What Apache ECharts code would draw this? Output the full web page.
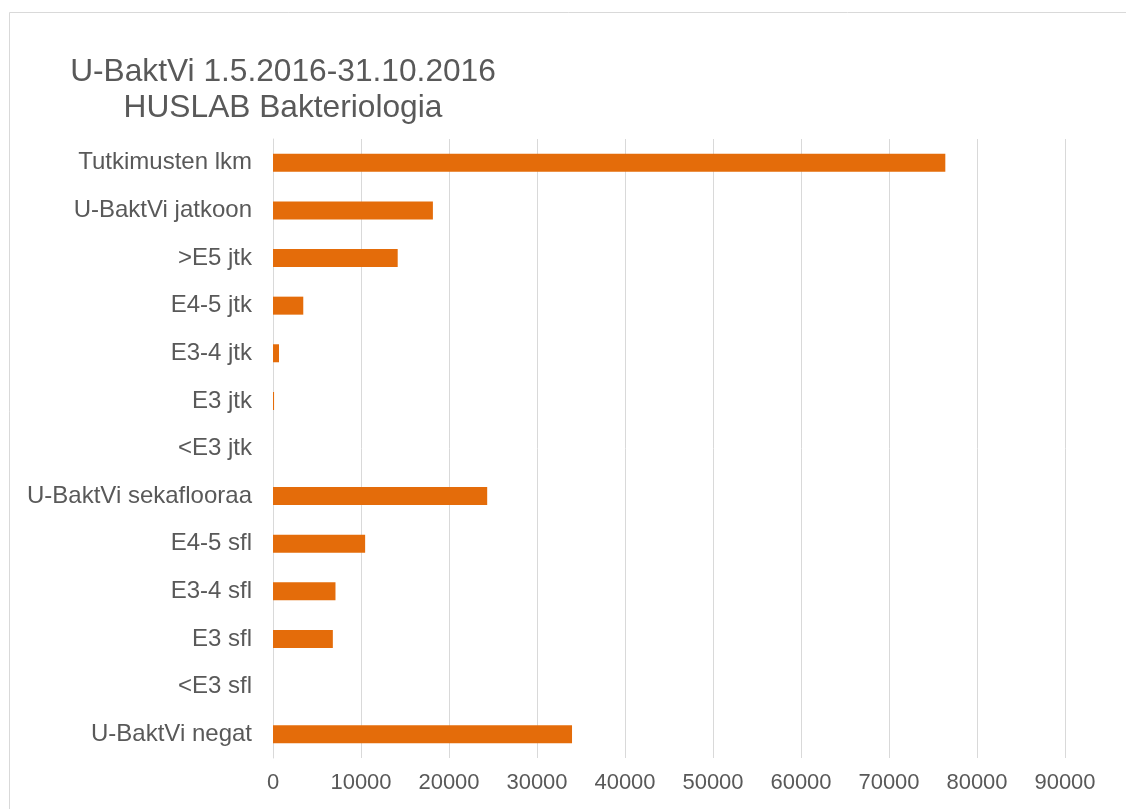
<!DOCTYPE html>
<html>
<head>
<meta charset="utf-8">
<script src="https://cdn.jsdelivr.net/npm/echarts@6/dist/echarts.min.js"></script>
<style>
html,body{margin:0;padding:0;background:#fff;}
#chart{width:1126px;height:809px;}
</style>
</head>
<body>
<div id="chart"></div>
<script>
const categories = [
  "Tutkimusten lkm",
  "U-BaktVi jatkoon",
  ">E5 jtk",
  "E4-5 jtk",
  "E3-4 jtk",
  "E3 jtk",
  "<E3 jtk",
  "U-BaktVi sekaflooraa",
  "E4-5 sfl",
  "E3-4 sfl",
  "E3 sfl",
  "<E3 sfl",
  "U-BaktVi negat"
];
const values = [76400, 18170, 14170, 3440, 680, 120, 0, 24340, 10470, 7100, 6800, 0, 33980];
const titleLines = ["U-BaktVi 1.5.2016-31.10.2016", "HUSLAB Bakteriologia"];

const FONT = "'Liberation Sans', Arial, sans-serif";
const chart = echarts.init(document.getElementById('chart'), null, {renderer: 'canvas'});
chart.setOption({
  animation: false,
  backgroundColor: '#ffffff',
  textStyle: {fontFamily: FONT},
  graphic: [{
    type: 'rect',
    shape: {x: 9.5, y: 12.5, width: 1300, height: 1000},
    style: {fill: 'none', stroke: '#d9d9d9', lineWidth: 1},
    silent: true, z: -1
  }],
  title: {
    text: titleLines.join('\n'),
    left: 278,
    top: 49,
    textAlign: 'center',
    textStyle: {
      fontFamily: FONT,
      fontSize: 31.7, fontWeight: 'normal', color: '#595959', lineHeight: 36
    }
  },
  grid: {left: 273, right: 61, top: 139, bottom: 51, containLabel: false},
  xAxis: {
    type: 'value', min: 0, max: 90000, interval: 10000,
    axisLine: {show: false}, axisTick: {show: false},
    splitLine: {show: true, lineStyle: {color: '#d9d9d9', width: 1}},
    axisLabel: {color: '#595959', fontSize: 22, margin: 14,
      fontFamily: FONT, formatter: function (v) { return String(v); }}
  },
  yAxis: {
    type: 'category', data: categories, inverse: true,
    axisLine: {show: true, lineStyle: {color: '#d9d9d9'}},
    axisTick: {show: false},
    axisLabel: {color: '#595959', fontSize: 24, margin: 21, fontFamily: FONT}
  },
  series: [{
    type: 'bar', data: values, barWidth: 18,
    itemStyle: {color: '#E46C0A'}
  }]
});
</script>
</body>
</html>
